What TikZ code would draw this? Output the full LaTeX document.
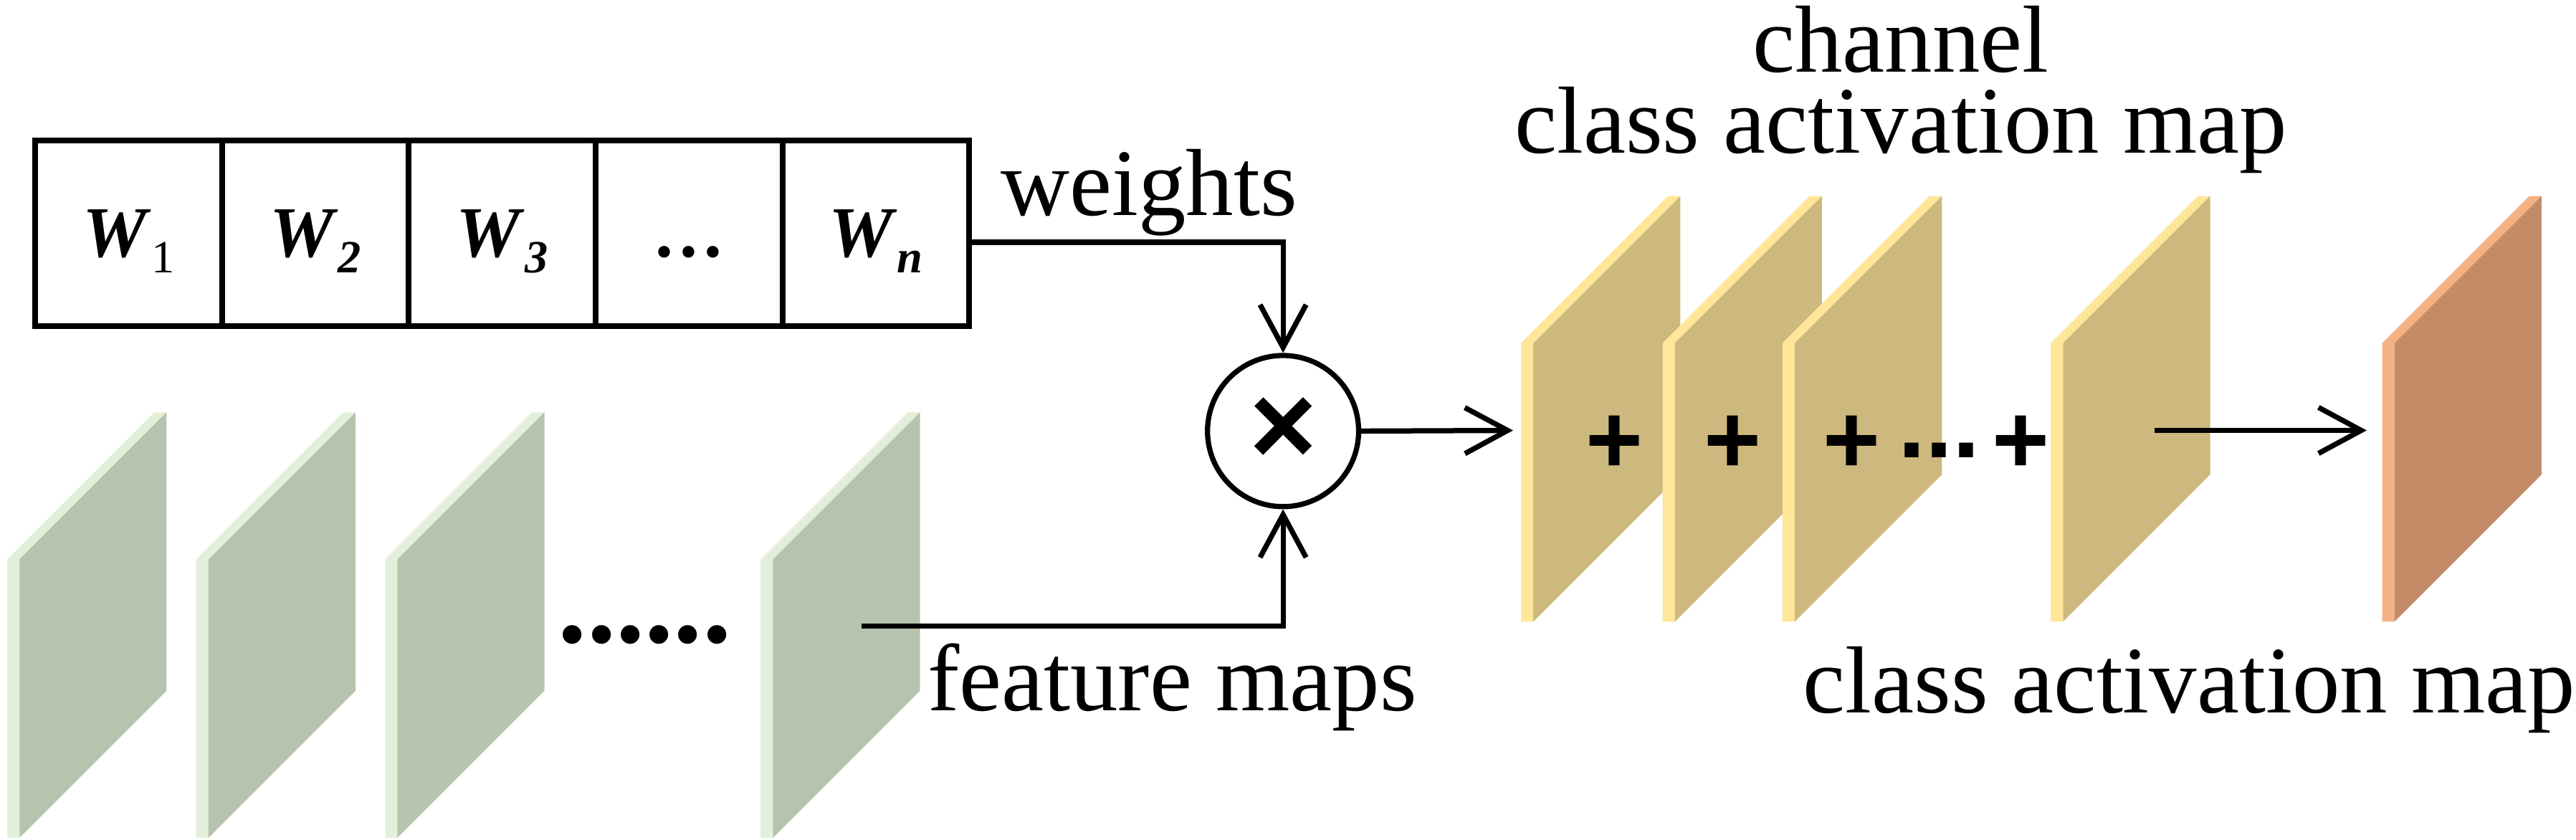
\documentclass[tikz,border=0pt]{standalone}
\usepackage{fontspec}
\setmainfont{Liberation Serif}
\setsansfont{Liberation Sans}
\usetikzlibrary{arrows.meta}
\usetikzlibrary{positioning}

\definecolor{fmface}{HTML}{B6C4AE}
\definecolor{fmside}{HTML}{E2EFDA}
\definecolor{chface}{HTML}{CDB97D}
\definecolor{chside}{HTML}{FFE699}
\definecolor{camface}{HTML}{C48B67}
\definecolor{camside}{HTML}{F4B183}

\tikzset{>={Straight Barb[length=2.6mm,width=2.8mm]}}
\tikzset{
    wcell/.style={draw, line width=1pt, minimum width=1.137cm, minimum height=1.13cm,
        inner sep=0pt, outer sep=0pt, text height=0.29cm, text depth=0pt,
        font=\fontsize{12.5}{12.5}\selectfont},
    lbl/.style={font=\fontsize{16.5}{14}\selectfont, inner sep=0pt, anchor=base},
    arr/.style={->, line width=0.9pt},
    plussign/.style={font=\sffamily\bfseries\fontsize{17}{17}\selectfont, inner sep=0pt},
    pics/slab/.style 2 args={code={
        \fill[#2] (0,89.5) -- (89.5,0) -- (97,0) -- (7.5,89.5) -- (7.5,259) -- (0,259) -- cycle;
        \fill[#1] (7.5,89.5) -- (97,0) -- (97,169.5) -- (7.5,259) -- cycle;
    }},
}

\newcommand{\wlab}[1]{\textbf{\textit{W}}\raisebox{-2.7pt}{\fontsize{8}{8}\selectfont #1}}

\begin{document}
\begin{tikzpicture}[x=0.1mm, y=-0.1mm]
    \useasboundingbox (0,0) rectangle (1568,511);

    % feature maps
    \foreach \xa in {4.4,119.4,234.4,463}
        \pic at (\xa,251) {slab={fmface}{fmside}};
    \node[font=\bfseries\fontsize{20}{20}\selectfont, inner sep=0pt, anchor=base] (fmdots) at (392.5,391) {......};

    % channel class activation maps
    \foreach \xa in {925.8,1012,1085,1248.3}
        \pic at (\xa,119.4) {slab={chface}{chside}};
    \pic at (1450,119.4) {slab={camface}{camside}};

    \foreach \xa/\nm in {982.6/p1,1054.6/p2,1127/p3,1230/p4}
        \node[plussign] (\nm) at (\xa,270.5) {+};
    \node[plussign, anchor=base] (pdots) at (1180.5,278.5) {...};

    % weights
    \node[wcell] (w1) at (78.3,142) {\wlab{1}};
    \node[wcell, right=0pt of w1] (w2) {\wlab{\textbf{\textit{2}}}};
    \node[wcell, right=0pt of w2] (w3) {\wlab{\textbf{\textit{3}}}};
    \node[wcell, right=0pt of w3] (w4) {\textbf{…}};
    \node[wcell, right=0pt of w4] (w5) {\wlab{\textbf{\textit{n}}}};

    \node[draw, circle, line width=0.9pt, minimum size=0.92cm, inner sep=0pt,
        font=\sffamily\bfseries\fontsize{20}{20}\selectfont] (mul) at (781,262.4) {\raisebox{-0.5pt}{×}};

    \coordinate (fmout) at (524.5,381);
    \coordinate (chin) at (921,262);
    \coordinate (camout) at (1311.6,262);
    \coordinate (camin) at (1440.6,262);

    \draw[arr] ([yshift=-0.55mm]w5.east) -| (mul.north);
    \draw[arr] (fmout) -| (mul.south);
    \draw[arr] (mul.east) -- (chin);
    \draw[arr] (camout) -- (camin);

    \node[lbl] (wts) at (699.5,131) {weights};
    \node[lbl] (fml) at (713.5,432.6) {feature maps};
    \node[lbl, anchor=north, align=center] (ccam) at (1157,3) {channel\\class activation map};
    \node[lbl] (cam) at (1332.5,434) {class activation map};
\end{tikzpicture}
\end{document}
